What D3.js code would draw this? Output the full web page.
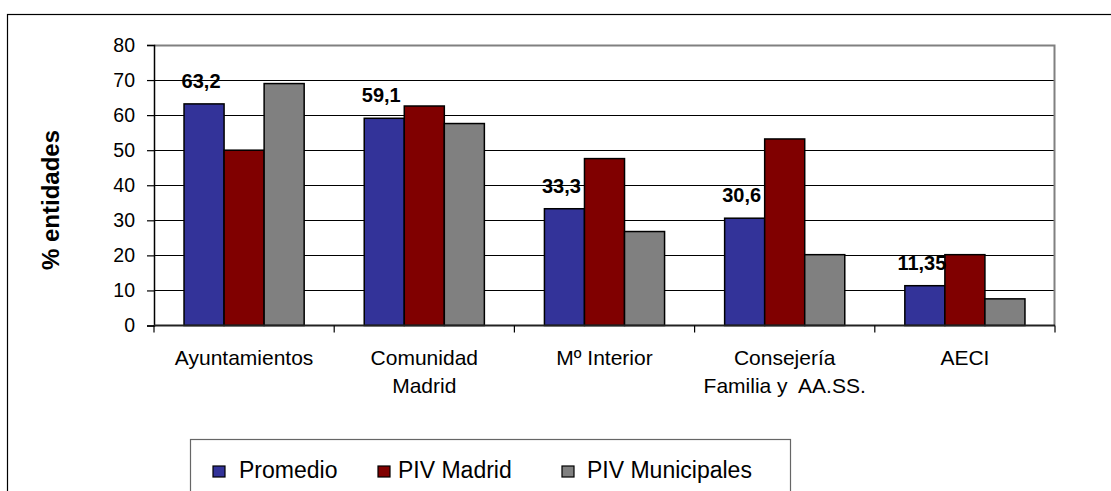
<!DOCTYPE html>
<html>
<head>
<meta charset="utf-8">
<script src="https://cdn.jsdelivr.net/npm/d3@7"></script>
<style>
  body { margin: 0; background: #fff; }
  text { font-family: Arial, "Liberation Sans", sans-serif; fill: #000; }
</style>
</head>
<body>
<svg id="chart" width="1111" height="491"></svg>
<script>
// data
const categories = ['Ayuntamientos', 'Comunidad\nMadrid', 'Mº Interior', 'Consejería\nFamilia y  AA.SS.', 'AECI']
const series = ['Promedio', 'PIV Madrid', 'PIV Municipales']
const promedio = [63.2, 59.1, 33.3, 30.6, 11.35]
const pivMadrid = [50, 62.6, 47.6, 53.2, 20.2]
const pivMunicipales = [69, 57.6, 26.8, 20.2, 7.6]
const yTicks = [0, 10, 20, 30, 40, 50, 60, 70, 80]
const colors = ['#333399', '#800000', '#808080']

const values = [promedio, pivMadrid, pivMunicipales]

const svg = d3.select('#chart')

// outer frame
svg.append('rect')
  .attr('x', 7.5).attr('y', 14.5)
  .attr('width', 1200).attr('height', 600)
  .attr('fill', 'none').attr('stroke', '#000').attr('stroke-width', 1.2)

const plot = { left: 154, right: 1055, top: 45, bottom: 325.5 }

const x = d3.scaleBand().domain(categories).range([plot.left, plot.right]).padding(0)
const xSub = d3.scaleBand().domain(series).range([0, x.bandwidth()])
  .paddingInner(0).paddingOuter(0.75)
const y = d3.scaleLinear().domain([0, 80]).range([plot.bottom, plot.top])

// gridlines
svg.append('g')
  .selectAll('line')
  .data(yTicks.filter(t => t > 0 && t < 80))
  .enter().append('line')
  .attr('x1', plot.left).attr('x2', plot.right)
  .attr('y1', d => Math.round(y(d)) + 0.5).attr('y2', d => Math.round(y(d)) + 0.5)
  .attr('stroke', '#000').attr('stroke-width', 1)

// plot border top/right (grey)
svg.append('path')
  .attr('d', `M${plot.left},${plot.top + 0.5}H${plot.right - 0.5}V${plot.bottom}`)
  .attr('fill', 'none').attr('stroke', '#808080').attr('stroke-width', 2)

// bars
const groups = svg.append('g').selectAll('g')
  .data(categories)
  .enter().append('g')
  .attr('transform', d => `translate(${x(d)},0)`)

groups.selectAll('rect')
  .data((d, i) => series.map((s, j) => ({ s, j, v: values[j][i] })))
  .enter().append('rect')
  .attr('x', d => xSub(d.s))
  .attr('width', xSub.bandwidth())
  .attr('y', d => y(d.v))
  .attr('height', d => y(0) - y(d.v))
  .attr('fill', (d) => colors[d.j])
  .attr('stroke', '#000')
  .attr('stroke-width', 1.5)

// value labels on Promedio
groups.append('text')
  .attr('x', xSub(series[0]) + xSub.bandwidth() / 2 - 3)
  .attr('y', (d, i) => y(promedio[i]) - 16)
  .attr('text-anchor', 'middle')
  .style('font-size', '20px')
  .style('font-weight', 'bold')
  .text((d, i) => String(promedio[i]).replace('.', ','))

// y axis
const yAxis = svg.append('g')
  .attr('transform', `translate(${plot.left},0)`)
  .call(d3.axisLeft(y).tickValues(yTicks).tickSize(7).tickPadding(12).tickFormat(d3.format('d')))
yAxis.select('.domain').attr('stroke', '#000').attr('stroke-width', 1.5)
yAxis.selectAll('.tick line').attr('stroke', '#000').attr('stroke-width', 1.2)
yAxis.selectAll('.tick text').style('font-size', '19.5px').attr('fill', '#000')
  .style('font-family', 'Arial, "Liberation Sans", sans-serif')

// x axis baseline + category separators
svg.append('line')
  .attr('x1', plot.left).attr('x2', plot.right)
  .attr('y1', plot.bottom).attr('y2', plot.bottom)
  .attr('stroke', '#222').attr('stroke-width', 2)

svg.append('g').selectAll('line')
  .data(categories.map(c => x(c)).concat([plot.right]))
  .enter().append('line')
  .attr('x1', d => d).attr('x2', d => d)
  .attr('y1', plot.bottom).attr('y2', plot.bottom + 7)
  .attr('stroke', '#000').attr('stroke-width', 1.2)

// category labels
const catText = svg.append('g').selectAll('text')
  .data(categories)
  .enter().append('text')
  .attr('text-anchor', 'middle')
  .attr('xml:space', 'preserve')
  .style('white-space', 'pre')
  .style('font-size', '21px')
  .attr('y', 365)

catText.selectAll('tspan')
  .data(d => d.split('\n').map(line => ({ line, c: d })))
  .enter().append('tspan')
  .attr('x', d => x(d.c) + x.bandwidth() / 2)
  .attr('dy', (d, i) => i === 0 ? 0 : 28)
  .text(d => d.line)

// y title
svg.append('text')
  .attr('transform', 'translate(50,200) rotate(-90)')
  .attr('text-anchor', 'middle')
  .attr('dominant-baseline', 'central')
  .style('font-size', '24px')
  .style('font-weight', 'bold')
  .text('% entidades')

// legend
const legend = svg.append('g')
legend.append('rect')
  .attr('x', 190.5).attr('y', 439.5)
  .attr('width', 600).attr('height', 100)
  .attr('fill', '#fff').attr('stroke', '#666').attr('stroke-width', 1.2)

const legendX = [213, 378, 562]
const item = legend.selectAll('g.item')
  .data(series)
  .enter().append('g')
  .attr('class', 'item')
  .attr('transform', (d, i) => `translate(${legendX[i]},466)`)

item.append('rect')
  .attr('width', 12).attr('height', 11)
  .attr('fill', (d, i) => colors[i])
  .attr('stroke', '#000').attr('stroke-width', 1.2)

item.append('text')
  .attr('x', (d, i) => [26, 20, 25][i])
  .attr('y', 11.5)
  .style('font-size', '23px')
  .text(d => d)
</script>
</body>
</html>
